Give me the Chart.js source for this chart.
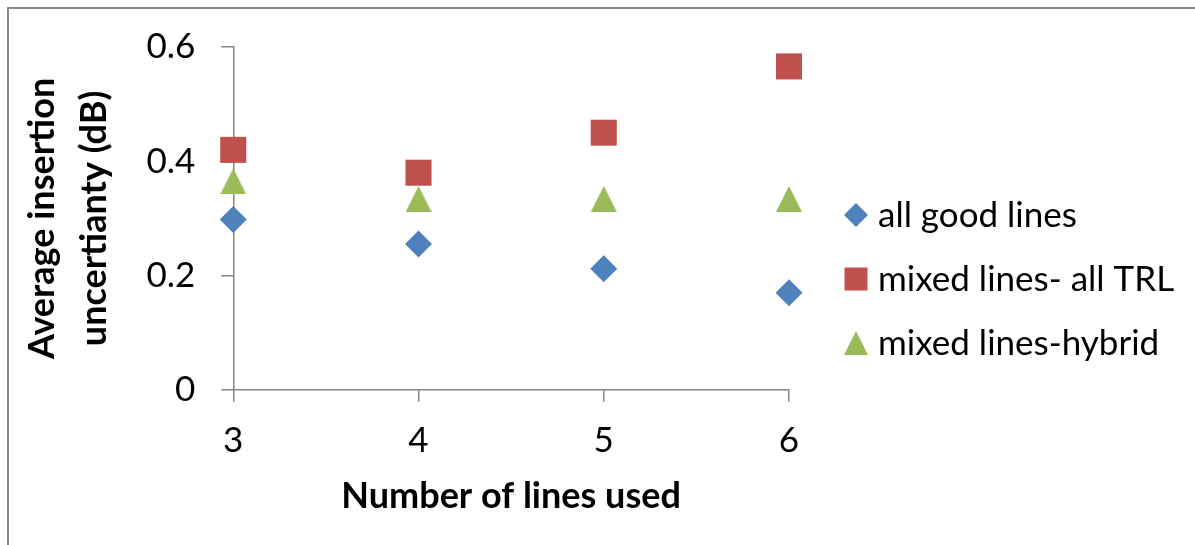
<!DOCTYPE html>
<html>
<head>
<meta charset="utf-8">
<script src="https://cdn.jsdelivr.net/npm/chart.js@4.4.1/dist/chart.umd.min.js"></script>
<style>
    html, body { margin: 0; padding: 0; background: #fff; }
    #wrap { position: relative; width: 1195px; height: 545px; overflow: hidden; }
    #frame { position: absolute; left: 7px; top: 7px; width: 1220px; height: 580px; border: 2px solid #8a8a8a; }
    #wrap canvas { position: absolute; left: 0; top: 0; }
</style>
</head>
<body>
<div id="wrap">
    <div id="frame"></div>
    <canvas id="insertionChart" width="1195" height="545"></canvas>
</div>
<script>
// values
const linesUsed = [3, 4, 5, 6];
const allGoodLines = [0.298, 0.255, 0.212, 0.170];
const mixedAllTRL = [0.420, 0.380, 0.450, 0.566];
const mixedHybrid = [0.365, 0.334, 0.334, 0.334];
const yTickValues = [0, 0.2, 0.4, 0.6];
const seriesNames = ['all good lines', 'mixed lines- all TRL', 'mixed lines-hybrid'];

const FONT = 'Lato, "Open Sans", sans-serif';
const axisGray = '#868686';
const colors = ['#4F81BD', '#C0504D', '#9BBB59'];

// excel-like triangle marker (centred on its box, not its centroid)
function triangleMarker(size, color) {
    const c = document.createElement('canvas');
    c.width = size;
    c.height = size;
    const g = c.getContext('2d');
    g.fillStyle = color;
    g.beginPath();
    g.moveTo(size / 2, 0);
    g.lineTo(size, size);
    g.lineTo(0, size);
    g.closePath();
    g.fill();
    return c;
}

const toPoints = ys => linesUsed.map((x, i) => ({ x, y: ys[i] }));

const makeSet = (label, ys, color, style, radius, legendStyle, legendRadius) => ({
    label,
    data: toPoints(ys),
    pointStyle: style,
    pointRadius: radius,
    pointHoverRadius: radius,
    backgroundColor: color,
    borderColor: color,
    borderWidth: 0,
    showLine: false,
    clip: false,
    legendStyle,
    legendRadius
});

// legend drawn beside the plot (built-in right legend is capped in width)
const sideLegend = {
    id: 'sideLegend',
    afterDraw(chart) {
        const ctx = chart.ctx;
        const x0 = 856, y0 = 215, step = 64;
        ctx.save();
        ctx.font = '35px ' + FONT;
        ctx.textBaseline = 'middle';
        ctx.textAlign = 'left';
        chart.data.datasets.forEach((ds, i) => {
            const y = y0 + i * step;
            ctx.fillStyle = ds.backgroundColor;
            Chart.helpers.drawPoint(ctx, {
                pointStyle: ds.legendStyle,
                radius: ds.legendRadius,
                rotation: 0,
                borderWidth: 0
            }, x0, y);
            ctx.fillStyle = '#000';
            ctx.fillText(ds.label, x0 + 22, y + 1);
        });
        ctx.restore();
    }
};

document.addEventListener('DOMContentLoaded', function() {
    const ctx = document.getElementById('insertionChart').getContext('2d');
    new Chart(ctx, {
        type: 'scatter',
        data: {
            datasets: [
                makeSet(seriesNames[0], allGoodLines, colors[0], 'rectRot', 13.5, 'rectRot', 12),
                makeSet(seriesNames[1], mixedAllTRL, colors[1], 'rect', 18.4, 'rect', 16.3),
                makeSet(seriesNames[2], mixedHybrid, colors[2], triangleMarker(26, colors[2]), 13,
                    triangleMarker(24, colors[2]), 12)
            ]
        },
        options: {
            responsive: false,
            animation: false,
            layout: { padding: { left: 16, top: 24, right: 406, bottom: 27 } },
            plugins: {
                tooltip: { enabled: false },
                legend: { display: false }
            },
            scales: {
                x: {
                    type: 'linear',
                    min: 3,
                    max: 6,
                    afterBuildTicks: s => { s.ticks = linesUsed.map(v => ({ value: v })); },
                    ticks: { color: '#000', padding: 21, font: { family: FONT, size: 35, lineHeight: 1 } },
                    grid: { drawOnChartArea: false, tickLength: 12, color: axisGray, lineWidth: 1.5 },
                    border: { color: axisGray, width: 1.5 },
                    title: {
                        display: true,
                        text: 'Number of lines used',
                        color: '#000',
                        padding: { top: -4, bottom: 0 },
                        font: { family: FONT, size: 36, weight: 'bold' }
                    }
                },
                y: {
                    min: 0,
                    max: 0.6,
                    afterBuildTicks: s => { s.ticks = yTickValues.map(v => ({ value: v })); },
                    ticks: { color: '#000', padding: 26, font: { family: FONT, size: 35 } },
                    grid: { drawOnChartArea: false, tickLength: 12, color: axisGray, lineWidth: 1.5 },
                    border: { color: axisGray, width: 1.5 },
                    title: {
                        display: true,
                        text: ['Average insertion', 'uncertianty (dB)'],
                        color: '#000',
                        padding: { top: 0, bottom: 0 },
                        font: { family: FONT, size: 36, weight: 'bold', lineHeight: 1.45 }
                    }
                }
            }
        },
        plugins: [sideLegend]
    });
});
</script>
</body>
</html>
